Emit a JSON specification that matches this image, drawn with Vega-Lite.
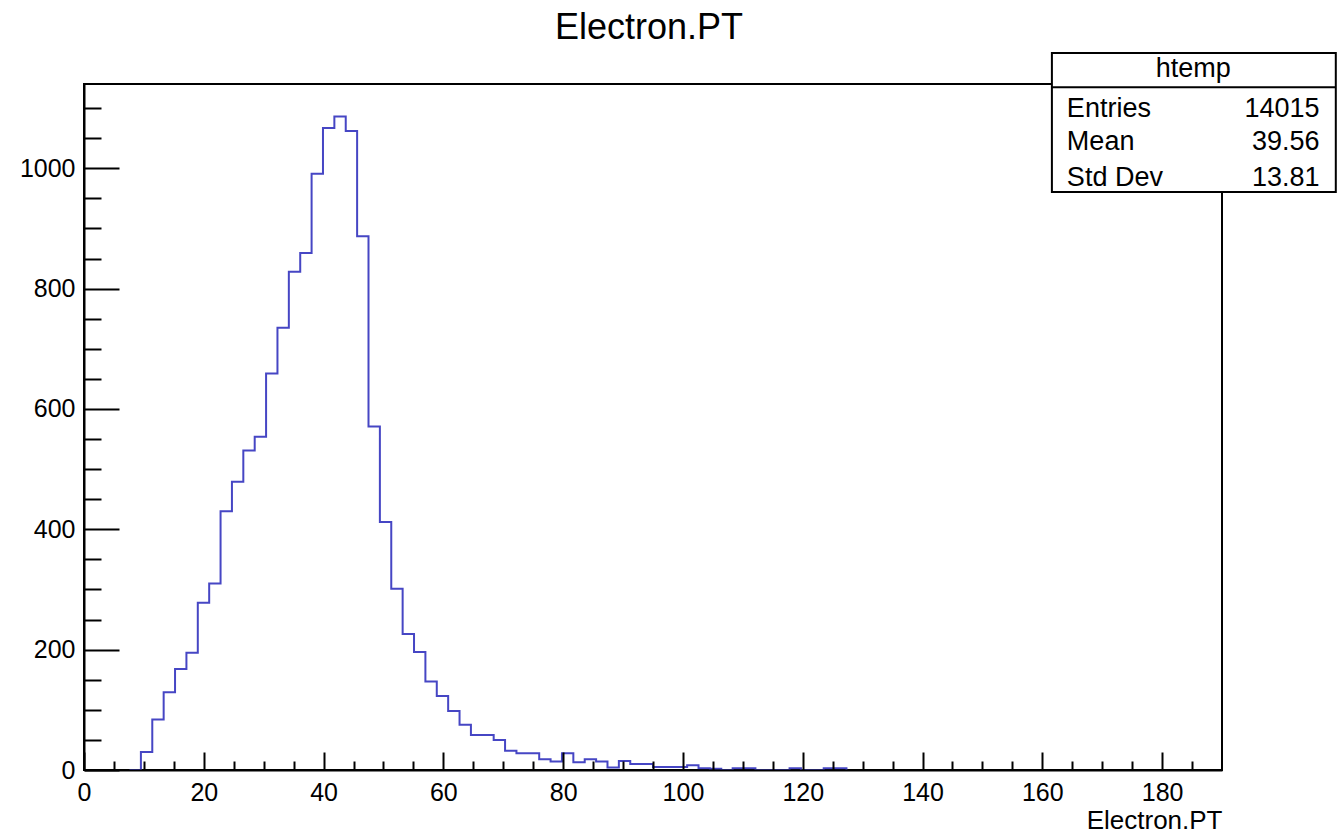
{
  "$schema": "https://vega.github.io/schema/vega-lite/v6.json",
  "width": 1138,
  "height": 686,
  "autosize": "none",
  "padding": {"left": 84, "top": 84, "right": 115, "bottom": 64},
  "background": "white",
  "config": {
    "font": "Liberation Sans",
    "view": {"stroke": "black", "strokeWidth": 2}
  },
  "title": {
    "text": "Electron.PT",
    "fontSize": 36,
    "fontWeight": "normal",
    "color": "black",
    "font": "Liberation Sans",
    "anchor": "middle",
    "frame": "group",
    "baseline": "alphabetic",
    "offset": -23,
    "dx": -4
  },
  "datasets": {
    "hist": [
      {"pt": 7.6, "entries": 0},
      {"pt": 9.5, "entries": 30},
      {"pt": 11.4, "entries": 84},
      {"pt": 13.3, "entries": 129},
      {"pt": 15.2, "entries": 168},
      {"pt": 17.1, "entries": 195},
      {"pt": 19.0, "entries": 278},
      {"pt": 20.9, "entries": 310},
      {"pt": 22.8, "entries": 430},
      {"pt": 24.7, "entries": 479},
      {"pt": 26.6, "entries": 531},
      {"pt": 28.5, "entries": 554},
      {"pt": 30.4, "entries": 659},
      {"pt": 32.3, "entries": 735},
      {"pt": 34.2, "entries": 828},
      {"pt": 36.1, "entries": 859},
      {"pt": 38.0, "entries": 991},
      {"pt": 39.9, "entries": 1067},
      {"pt": 41.8, "entries": 1086},
      {"pt": 43.7, "entries": 1062},
      {"pt": 45.6, "entries": 887},
      {"pt": 47.5, "entries": 571},
      {"pt": 49.4, "entries": 412},
      {"pt": 51.3, "entries": 301},
      {"pt": 53.2, "entries": 226},
      {"pt": 55.1, "entries": 196},
      {"pt": 57.0, "entries": 147},
      {"pt": 58.9, "entries": 123},
      {"pt": 60.8, "entries": 98},
      {"pt": 62.7, "entries": 75},
      {"pt": 64.6, "entries": 58},
      {"pt": 66.5, "entries": 58},
      {"pt": 68.4, "entries": 50},
      {"pt": 70.3, "entries": 32},
      {"pt": 72.2, "entries": 28},
      {"pt": 74.1, "entries": 28},
      {"pt": 76.0, "entries": 18},
      {"pt": 77.9, "entries": 14},
      {"pt": 79.8, "entries": 28},
      {"pt": 81.7, "entries": 13},
      {"pt": 83.6, "entries": 18},
      {"pt": 85.5, "entries": 14},
      {"pt": 87.4, "entries": 4},
      {"pt": 89.3, "entries": 15},
      {"pt": 91.2, "entries": 10},
      {"pt": 93.1, "entries": 10},
      {"pt": 95.0, "entries": 5},
      {"pt": 96.9, "entries": 5},
      {"pt": 98.8, "entries": 5},
      {"pt": 100.7, "entries": 8},
      {"pt": 102.6, "entries": 3},
      {"pt": 104.5, "entries": 2},
      {"pt": 106.4, "entries": 0},
      {"pt": 108.3, "entries": 3},
      {"pt": 110.2, "entries": 3},
      {"pt": 112.1, "entries": 0},
      {"pt": 114.0, "entries": 0},
      {"pt": 115.9, "entries": 0},
      {"pt": 117.8, "entries": 3},
      {"pt": 119.7, "entries": 0},
      {"pt": 121.6, "entries": 0},
      {"pt": 123.5, "entries": 3},
      {"pt": 125.4, "entries": 3},
      {"pt": 127.3, "entries": 0}
    ],
    "stats": [
      {"stat": "Entries", "value": "14015"},
      {"stat": "Mean", "value": "39.56"},
      {"stat": "Std Dev", "value": "13.81"}
    ],
    "header": [{"name": "htemp"}]
  },
  "resolve": {"axis": {"x": "independent", "y": "independent"}},
  "layer": [
    {
      "data": {"name": "hist"},
      "mark": {"type": "line", "interpolate": "step-after", "color": "#4646c4", "strokeWidth": 2},
      "encoding": {
        "x": {
          "field": "pt",
          "type": "quantitative",
          "scale": {"domain": [0, 190], "nice": false, "zero": false},
          "axis": {
            "orient": "bottom",
            "values": [0, 20, 40, 60, 80, 100, 120, 140, 160, 180],
            "format": "d",
            "grid": false,
            "domainColor": "black",
            "domainWidth": 2,
            "tickColor": "black",
            "tickWidth": 2,
            "tickSize": -18,
            "labelFontSize": 25,
            "labelColor": "black",
            "labelFont": "Liberation Sans",
            "labelBaseline": "alphabetic",
            "labelPadding": 48,
            "labelFlush": false,
            "labelOverlap": false,
            "labelBound": false,
            "title": "Electron.PT",
            "titleFont": "Liberation Sans",
            "titleFontSize": 26,
            "titleFontWeight": "normal",
            "titleColor": "black",
            "titleAnchor": "end",
            "titleAlign": "right",
            "titleBaseline": "alphabetic",
            "titleX": 1138,
            "titleY": 58,
            "zindex": 1
          }
        },
        "y": {
          "field": "entries",
          "type": "quantitative",
          "scale": {"domain": [0, 1140], "nice": false},
          "axis": {
            "orient": "left",
            "values": [0, 200, 400, 600, 800, 1000],
            "format": "d",
            "grid": false,
            "domainColor": "black",
            "domainWidth": 2,
            "tickColor": "black",
            "tickWidth": 2,
            "tickSize": -35,
            "labelFontSize": 25,
            "labelColor": "black",
            "labelFont": "Liberation Sans",
            "labelAlign": "right",
            "labelBaseline": "middle",
            "labelPadding": 44,
            "labelFlush": false,
            "labelOverlap": false,
            "labelBound": false,
            "title": null,
            "zindex": 1
          }
        }
      }
    },
    {
      "data": {"name": "hist"},
      "mark": {"type": "point", "opacity": 0},
      "encoding": {
        "x": {
          "field": "pt",
          "type": "quantitative",
          "axis": {
            "orient": "bottom",
            "values": [5, 10, 15, 25, 30, 35, 45, 50, 55, 65, 70, 75, 85, 90, 95, 105, 110, 115, 125, 130, 135, 145, 150, 155, 165, 170, 175, 185],
            "labels": false,
            "domain": false,
            "grid": false,
            "tickColor": "black",
            "tickWidth": 2,
            "tickSize": -9,
            "title": null,
            "zindex": 1
          }
        },
        "y": {
          "field": "entries",
          "type": "quantitative",
          "axis": {
            "orient": "left",
            "values": [50, 100, 150, 250, 300, 350, 450, 500, 550, 650, 700, 750, 850, 900, 950, 1050, 1100],
            "labels": false,
            "domain": false,
            "grid": false,
            "tickColor": "black",
            "tickWidth": 2,
            "tickSize": -17,
            "title": null,
            "zindex": 1
          }
        }
      }
    },
    {
      "data": {"name": "header"},
      "mark": {"type": "rect", "fill": "white", "stroke": "black", "strokeWidth": 2},
      "encoding": {
        "x": {"datum": 161.6, "axis": null},
        "x2": {"datum": 209.0},
        "y": {"datum": 1191.5, "axis": null},
        "y2": {"datum": 960.5}
      }
    },
    {
      "data": {"name": "header"},
      "mark": {"type": "rule", "color": "black", "strokeWidth": 2},
      "encoding": {
        "x": {"datum": 161.6, "axis": null},
        "x2": {"datum": 209.0},
        "y": {"datum": 1134.4, "axis": null}
      }
    },
    {
      "data": {"name": "header"},
      "mark": {"type": "text", "align": "center", "baseline": "alphabetic", "fontSize": 27, "color": "black", "font": "Liberation Sans"},
      "encoding": {
        "x": {"datum": 185.2, "axis": null},
        "y": {"datum": 1151, "axis": null},
        "text": {"field": "name"}
      }
    },
    {
      "data": {"name": "stats"},
      "transform": [{"filter": "datum.stat == 'Entries'"}],
      "encoding": {"y": {"datum": 1085.6, "axis": null}},
      "layer": [
        {"mark": {"type": "text", "align": "left", "baseline": "alphabetic", "fontSize": 27, "color": "black", "font": "Liberation Sans"},
         "encoding": {"x": {"datum": 164.1, "axis": null}, "text": {"field": "stat"}}},
        {"mark": {"type": "text", "align": "right", "baseline": "alphabetic", "fontSize": 27, "color": "black", "font": "Liberation Sans"},
         "encoding": {"x": {"datum": 206.3, "axis": null}, "text": {"field": "value"}}}
      ]
    },
    {
      "data": {"name": "stats"},
      "transform": [{"filter": "datum.stat == 'Mean'"}],
      "encoding": {"y": {"datum": 1030.2, "axis": null}},
      "layer": [
        {"mark": {"type": "text", "align": "left", "baseline": "alphabetic", "fontSize": 27, "color": "black", "font": "Liberation Sans"},
         "encoding": {"x": {"datum": 164.1, "axis": null}, "text": {"field": "stat"}}},
        {"mark": {"type": "text", "align": "right", "baseline": "alphabetic", "fontSize": 27, "color": "black", "font": "Liberation Sans"},
         "encoding": {"x": {"datum": 206.3, "axis": null}, "text": {"field": "value"}}}
      ]
    },
    {
      "data": {"name": "stats"},
      "transform": [{"filter": "datum.stat == 'Std Dev'"}],
      "encoding": {"y": {"datum": 970.9, "axis": null}},
      "layer": [
        {"mark": {"type": "text", "align": "left", "baseline": "alphabetic", "fontSize": 27, "color": "black", "font": "Liberation Sans"},
         "encoding": {"x": {"datum": 164.1, "axis": null}, "text": {"field": "stat"}}},
        {"mark": {"type": "text", "align": "right", "baseline": "alphabetic", "fontSize": 27, "color": "black", "font": "Liberation Sans"},
         "encoding": {"x": {"datum": 206.3, "axis": null}, "text": {"field": "value"}}}
      ]
    }
  ]
}
